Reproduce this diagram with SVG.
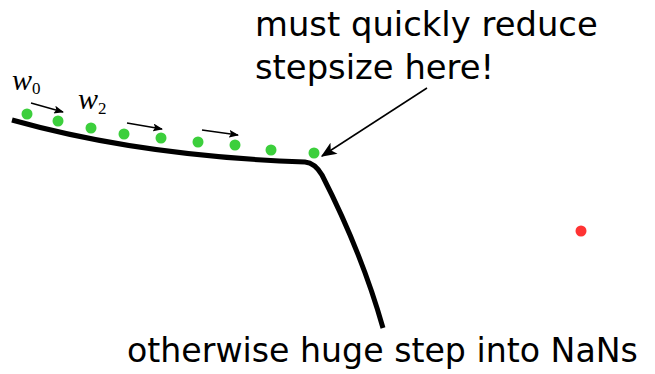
<svg xmlns="http://www.w3.org/2000/svg" width="655" height="374" viewBox="0 0 655 374">
  <style>
    .label { font-family: "DejaVu Sans", sans-serif; font-size: 33.8px; fill: #000; }
    .label-low { font-size: 33.2px; }
    .math { font-family: "Liberation Serif", serif; font-style: italic; font-size: 30px; fill: #000; }
    .sub { font-family: "Liberation Serif", serif; font-size: 17px; font-style: normal; fill: #000; }
    .dot { fill: #3ccf3c; }
    .step { stroke: #000; stroke-width: 1.5; fill: none; marker-end: url(#head); }
  </style>
  <defs>
    <marker id="head" viewBox="0 0 10 8" refX="9" refY="4" markerWidth="10" markerHeight="8" orient="auto" markerUnits="userSpaceOnUse">
      <path d="M0,0 L10,4 L0,8 L2,4 Z" fill="#000"/>
    </marker>
    <marker id="bighead" viewBox="0 0 12 10" refX="11" refY="5" markerWidth="16" markerHeight="13" orient="auto" markerUnits="userSpaceOnUse">
      <path d="M0,0 L12,5 L0,10 L3,5 Z" fill="#000"/>
    </marker>
  </defs>

  <!-- loss curve with sharp cliff -->
  <g id="curve">
    <path d="M12,120 C90,142 190,158 305,162 Q315,163 322,175 C345,220 368,275 383,328" fill="none" stroke="#000" stroke-width="5"/>
  </g>

  <!-- iterates -->
  <g id="iterates">
    <circle class="dot" cx="27" cy="114" r="5.5"/>
    <circle class="dot" cx="58" cy="121" r="5.5"/>
    <circle class="dot" cx="91" cy="128" r="5.5"/>
    <circle class="dot" cx="124" cy="134" r="5.5"/>
    <circle class="dot" cx="161" cy="138" r="5.5"/>
    <circle class="dot" cx="198" cy="142" r="5.5"/>
    <circle class="dot" cx="235" cy="145" r="5.5"/>
    <circle class="dot" cx="271" cy="150" r="5.5"/>
    <circle class="dot" cx="314" cy="153" r="5.5"/>
  </g>

  <g id="nan-point">
    <circle cx="581" cy="231" r="5.5" fill="#f33"/>
  </g>

  <!-- connectors -->
  <g id="connectors">
    <path class="step" d="M31,103 L63,112"/>
    <path class="step" d="M127,123 L162,129"/>
    <path class="step" d="M202,130 L238,135"/>
    <path d="M427,88 L322,156" stroke="#000" stroke-width="1.5" fill="none" marker-end="url(#bighead)"/>
  </g>

  <g id="labels">
    <text class="math" x="12" y="90">w<tspan class="sub" dy="4">0</tspan></text>
    <text class="math" x="78" y="109">w<tspan class="sub" dy="5">2</tspan></text>
    <text class="label" x="255" y="36">must quickly reduce</text>
    <text class="label" x="255" y="79">stepsize here!</text>
    <text class="label label-low" x="127" y="362">otherwise huge step into NaNs</text>
  </g>
</svg>
